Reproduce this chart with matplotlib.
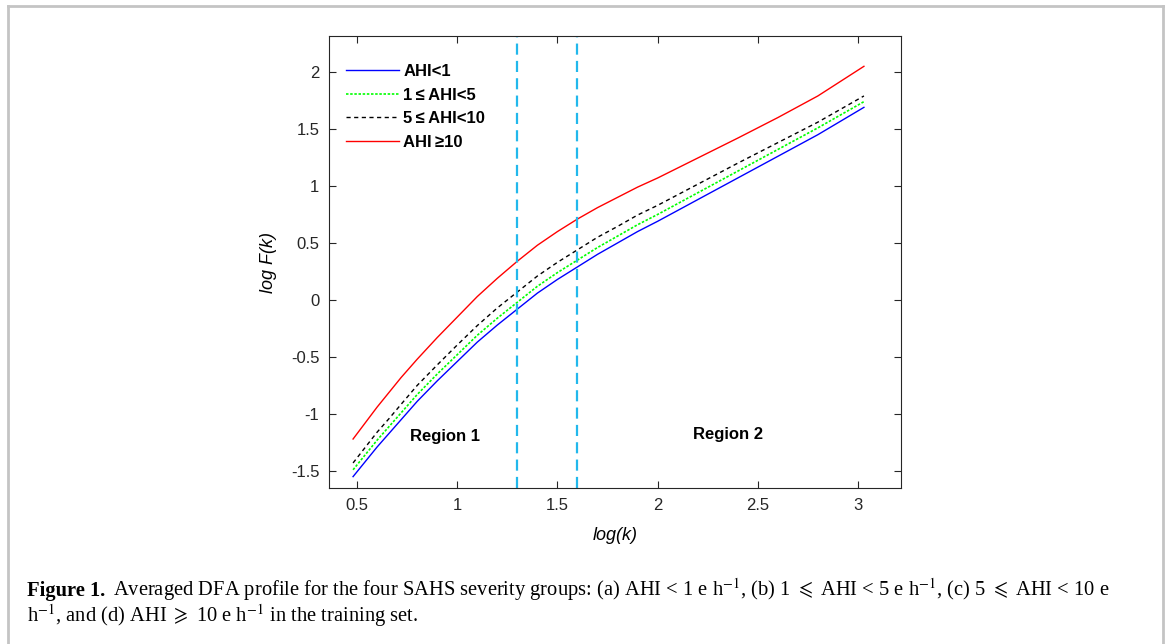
import numpy as np
import matplotlib
matplotlib.use("Agg")
import matplotlib.pyplot as plt
from matplotlib.lines import Line2D

# log(k) sample points
logk = [0.48, 0.54, 0.6, 0.66, 0.72, 0.8, 0.9, 1.0, 1.1, 1.2, 1.3, 1.4, 1.5, 1.6,
        1.7, 1.8, 1.9, 2.0, 2.2, 2.4, 2.6, 2.8, 3.03]

# log F(k) for each group
ahi_lt1 = [-1.55, -1.42, -1.29, -1.17, -1.05, -0.89, -0.71, -0.54, -0.37, -0.22, -0.08, 0.06,
           0.18, 0.29, 0.40, 0.50, 0.60, 0.69, 0.88, 1.07, 1.26, 1.45, 1.69]
ahi_1_5 = [-1.49, -1.36, -1.23, -1.11, -0.99, -0.83, -0.65, -0.48, -0.31, -0.16, -0.02, 0.12,
           0.24, 0.35, 0.46, 0.56, 0.66, 0.75, 0.94, 1.13, 1.32, 1.51, 1.74]
ahi_5_10 = [-1.43, -1.295, -1.16, -1.04, -0.915, -0.75, -0.57, -0.395, -0.225, -0.07, 0.07, 0.21,
            0.33, 0.44, 0.55, 0.645, 0.745, 0.83, 1.015, 1.20, 1.38, 1.56, 1.79]
ahi_ge10 = [-1.22, -1.08, -0.94, -0.81, -0.68, -0.52, -0.33, -0.15, 0.03, 0.19, 0.34, 0.48,
            0.60, 0.71, 0.81, 0.90, 0.99, 1.07, 1.245, 1.42, 1.60, 1.79, 2.05]

labels = ["AHI<1", "1\u2009\u2264\u2009AHI<5", "5\u2009\u2264\u2009AHI<10", "AHI\u2009\u226510"]
region_bounds = [1.3, 1.6]

plt.rcParams['font.family'] = ['Liberation Sans', 'DejaVu Sans']
plt.rcParams['mathtext.fontset'] = 'stix'

fig = plt.figure(figsize=(11.68, 6.44), dpi=100)
ax = fig.add_axes([0.2817, 0.2422, 0.4897, 0.7019])

ax.plot(logk, ahi_lt1, color='blue', lw=1.0, label=labels[0])
ax.plot(logk, ahi_1_5, color='#00ff00', lw=1.2, ls=(0, (1.5, 1)), label=labels[1])
ax.plot(logk, ahi_5_10, color='black', lw=1.0, ls=(0, (3, 2.5)), label=labels[2])
ax.plot(logk, ahi_ge10, color='red', lw=1.0, label=labels[3])

for b in region_bounds:
    ax.axvline(b, color='#22b8ec', lw=1.6, ls=(0, (5, 2.8)))

ax.text(0.94, -1.2, "Region 1", ha='center', va='center', fontsize=12, fontweight='bold')
ax.text(2.35, -1.18, "Region 2", ha='center', va='center', fontsize=12, fontweight='bold')

ax.set_xlim(0.36, 3.215)
ax.set_ylim(-1.65, 2.316)
ax.set_xticks([0.5, 1, 1.5, 2, 2.5, 3])
ax.set_xticklabels(["0.5", "1", "1.5", "2", "2.5", "3"])
ax.set_yticks([-1.5, -1, -0.5, 0, 0.5, 1, 1.5, 2])
ax.set_yticklabels(["-1.5", "-1", "-0.5", "0", "0.5", "1", "1.5", "2"])
ax.tick_params(direction='in', top=True, right=True, length=5, width=0.8,
               labelsize=12, colors='#262626', pad=7)
for s in ax.spines.values():
    s.set_color('#262626')
    s.set_linewidth(0.8)

ax.set_xlabel("log(k)", fontsize=13, fontstyle='italic', labelpad=10)
ax.set_ylabel("log F(k)", fontsize=13, fontstyle='italic', labelpad=10)

ax.legend(loc='upper left', frameon=False, prop={'weight': 'bold', 'size': 12},
          handlelength=3.2, handletextpad=0.25, labelspacing=0.52,
          bbox_to_anchor=(0.0, 0.975), borderaxespad=0.6)

# outer frame of the page figure
frame = dict(color='#c4c4c4', lw=2, transform=fig.transFigure)
fig.add_artist(Line2D([0.0065, 0.0065], [0.0, 0.9907], **frame))
fig.add_artist(Line2D([0.0065, 0.9957], [0.9907, 0.9907], **frame))
fig.add_artist(Line2D([0.9957, 0.9957], [0.0, 0.9907], **frame))

# caption
serif = ['Liberation Serif', 'DejaVu Serif']
cap1 = (r"Averaged DFA profile for the four SAHS severity groups: (a) AHI < 1 e h$^{-1}$, "
        r"(b) 1 $\leqslant$ AHI < 5 e h$^{-1}$, (c) 5 $\leqslant$ AHI < 10 e")
cap2 = r"h$^{-1}$, and (d) AHI $\geqslant$ 10 e h$^{-1}$ in the training set."
t = fig.text(0.023, 0.074, "Figure 1.", family=serif, fontweight='bold', fontsize=14.8,
             va='baseline')
fig.canvas.draw()
bb = t.get_window_extent()
x0 = (bb.x1 + 8) / fig.bbox.width
fig.text(x0, 0.074, cap1, family=serif, fontsize=14.8, va='baseline')
fig.text(0.023, 0.034, cap2, family=serif, fontsize=14.8, va='baseline')

fig.savefig("out.png", dpi=100)
